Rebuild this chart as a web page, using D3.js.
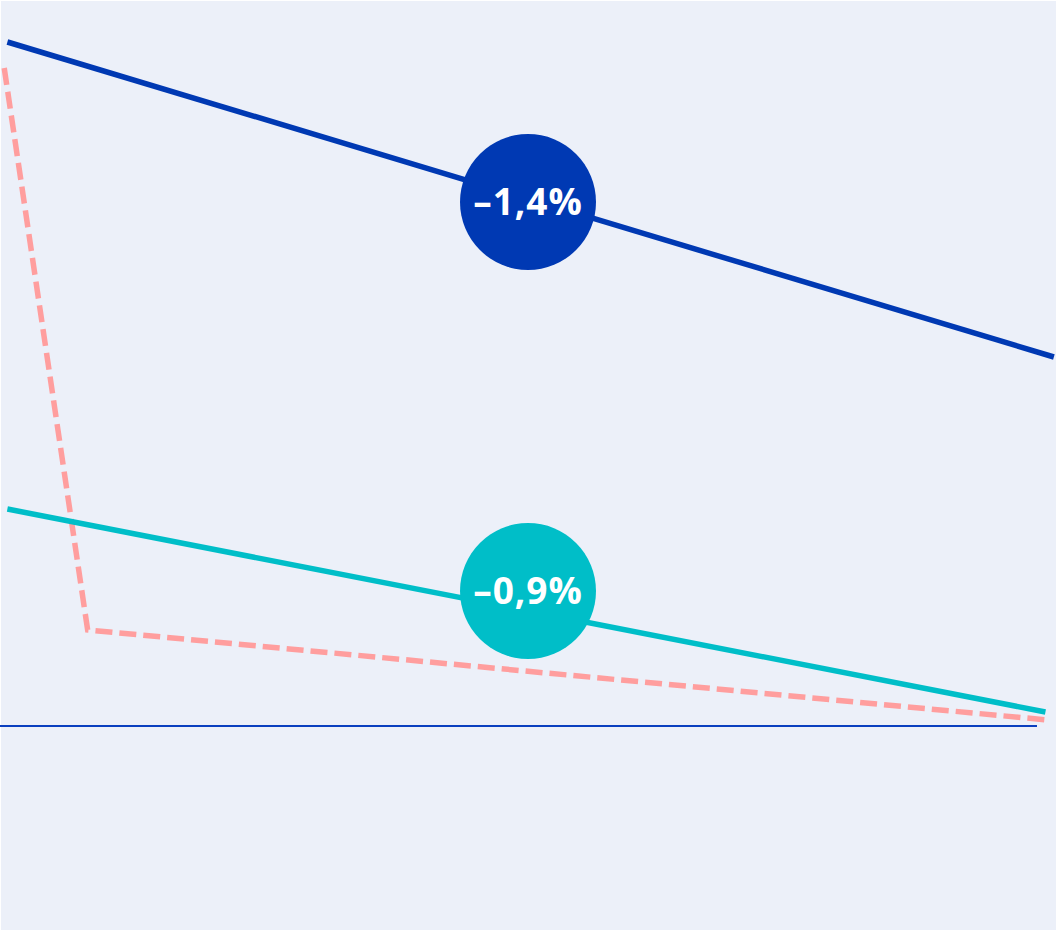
<!DOCTYPE html>
<html><head><meta charset="utf-8">
<script src="https://cdn.jsdelivr.net/npm/d3@7"></script>
<style>html,body{margin:0;padding:0;background:#fff;}svg{display:block;}</style>
</head><body>
<svg id="c" width="1056" height="930"></svg>
<script>
// Data (x in % of width, y in chart units; 0 = baseline)
const seriesNames = ["blue", "teal", "pink"];
const blueX = [0.7, 99.8];
const blueY = [684, 369];
const tealX = [0.7, 99.0];
const tealY = [217, 14];
const pinkX = [0.4, 8.3, 99.2];
const pinkY = [658, 96, 6];
const labelText = ["\u20131,4%", "\u20130,9%"];
const labelX = [50, 50];
const labelY = [524, 135];
const baselineX = [0, 98.2];

const W = 1056, H = 930;
const svg = d3.select("#c");
svg.append("rect").attr("x",0).attr("y",0).attr("width",W).attr("height",H).attr("fill","#ffffff");
svg.append("rect").attr("x",1).attr("y",1).attr("width",W-1).attr("height",H-1).attr("fill","#ecf0f9");

const x = d3.scaleLinear().domain([0,100]).range([0,W]);
const y = d3.scaleLinear().domain([0,700]).range([726,26]);

const line = d3.line().x(d=>x(d[0])).y(d=>y(d[1]));

// baseline
svg.append("line").attr("x1",x(baselineX[0])).attr("x2",x(baselineX[1]))
  .attr("y1",y(0)).attr("y2",y(0)).attr("stroke","#0a3fbf").attr("stroke-width",2);

const series = [
  {x: pinkX, y: pinkY, color:"#ff9e9e", dash:"17,7"},
  {x: tealX, y: tealY, color:"#00bec8", dash:null},
  {x: blueX, y: blueY, color:"#0039b3", dash:null}
];
series.forEach(s=>{
  const pts = s.x.map((v,i)=>[v, s.y[i]]);
  const p = svg.append("path").attr("d", line(pts)).attr("fill","none")
    .attr("stroke", s.color).attr("stroke-width",5.5);
  if (s.dash) p.attr("stroke-dasharray", s.dash);
});

const circColors = ["#0039b3", "#00bec8"];
labelText.forEach((t,i)=>{
  const g = svg.append("g").attr("transform",`translate(${x(labelX[i])},${y(labelY[i])})`);
  g.append("circle").attr("r",68).attr("fill",circColors[i]);
  g.append("text").text(t).attr("text-anchor","middle").attr("dy","0.36em")
    .attr("fill","#fff").attr("font-family","'Open Sans', 'Noto Sans', sans-serif")
    .attr("font-weight","bold").attr("font-size",37).attr("letter-spacing",1);
});
</script>
</body></html>
